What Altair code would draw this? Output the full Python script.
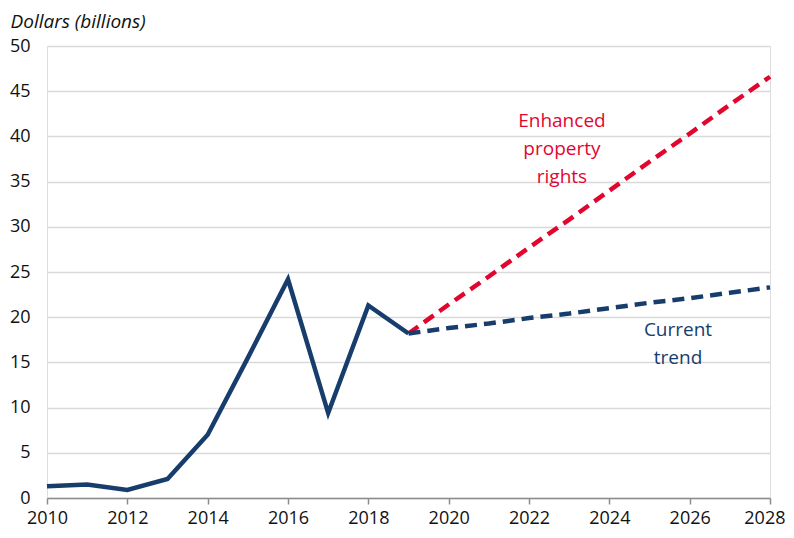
import altair as alt
import pandas as pd

hist_years = [2010, 2011, 2012, 2013, 2014, 2015, 2016, 2017, 2018, 2019]
hist_values = [1.3, 1.5, 0.9, 2.1, 7.0, 15.5, 24.2, 9.4, 21.3, 18.2]

proj_years = [2019, 2020, 2021, 2022, 2023, 2024, 2025, 2026, 2027, 2028]
current_trend = [18.2, 18.8, 19.3, 19.9, 20.4, 21.0, 21.6, 22.1, 22.7, 23.3]
enhanced_rights = [18.2, 21.4, 24.5, 27.7, 30.8, 34.0, 37.2, 40.3, 43.5, 46.6]

x_ticks = [2010, 2012, 2014, 2016, 2018, 2020, 2022, 2024, 2026, 2028]
y_ticks = [0, 5, 10, 15, 20, 25, 30, 35, 40, 45, 50]

NAVY = "#173d6c"
RED = "#e2062f"
FONT = "Open Sans"

hist = pd.DataFrame({"year": hist_years, "value": hist_values})
cur = pd.DataFrame({"year": proj_years, "value": current_trend})
enh = pd.DataFrame({"year": proj_years, "value": enhanced_rights})
labels = pd.DataFrame({
    "year": [2022.82, 2025.71],
    "value": [41.7, 18.6],
    "text": [["Enhanced", "property", "rights"], ["Current", "trend"]],
    "series": ["enh", "cur"],
})

x_enc = alt.X("year:Q", scale=alt.Scale(domain=[2010, 2028], nice=False, zero=False),
              axis=alt.Axis(values=x_ticks, format="d", title=None, grid=False,
                            labelFlush=False,
                            labelAlign=alt.ExprRef(expr="datum.value == 2028 ? 'right' : 'center'"),
                            labelOffset=alt.ExprRef(expr="datum.value == 2028 ? 15 : 0"),
                            domainColor="#8c8c8c", domainWidth=1.5,
                            tickColor="#8c8c8c", tickWidth=1.5, tickSize=6,
                            labelFontSize=18, labelColor="#111111", labelPadding=5,
                            labelFont=FONT))
y_enc = alt.Y("value:Q", scale=alt.Scale(domain=[0, 50], nice=False),
              axis=alt.Axis(values=y_ticks, title="Dollars (billions)", grid=True,
                            gridColor="#d9d9d9", gridWidth=1.5, domain=False, ticks=False,
                            labelFontSize=18, labelColor="#111111", labelPadding=17,
                            labelFont=FONT,
                            titleAngle=0, titleAlign="left", titleBaseline="alphabetic",
                            titleX=-37, titleY=-19, titleFontSize=19,
                            titleFontStyle="italic", titleFontWeight="normal",
                            titleFont=FONT, titleColor="#111111"))

base_hist = alt.Chart(hist).mark_line(color=NAVY, strokeWidth=4.5, strokeJoin="miter").encode(x=x_enc, y=y_enc)
line_cur = alt.Chart(cur).mark_line(color=NAVY, strokeWidth=4.5, strokeDash=[12, 7]).encode(x="year:Q", y="value:Q")
line_enh = alt.Chart(enh).mark_line(color=RED, strokeWidth=4.5, strokeDash=[12, 7]).encode(x="year:Q", y="value:Q")

text = alt.Chart(labels).mark_text(fontSize=19, font=FONT, lineHeight=28, baseline="middle", align="center").encode(
    x="year:Q", y="value:Q", text="text",
    color=alt.Color("series:N", scale=alt.Scale(domain=["enh", "cur"], range=[RED, NAVY]), legend=None),
)

chart = alt.layer(line_enh, line_cur, base_hist, text).properties(
    width=723, height=452,
    autosize=alt.AutoSizeParams(type="none"),
    padding={"left": 39, "top": 38, "right": 16, "bottom": 32},
).configure_view(stroke=None).configure(background="white")

chart.save("out.html", embed_options={"renderer": "svg", "actions": False})
